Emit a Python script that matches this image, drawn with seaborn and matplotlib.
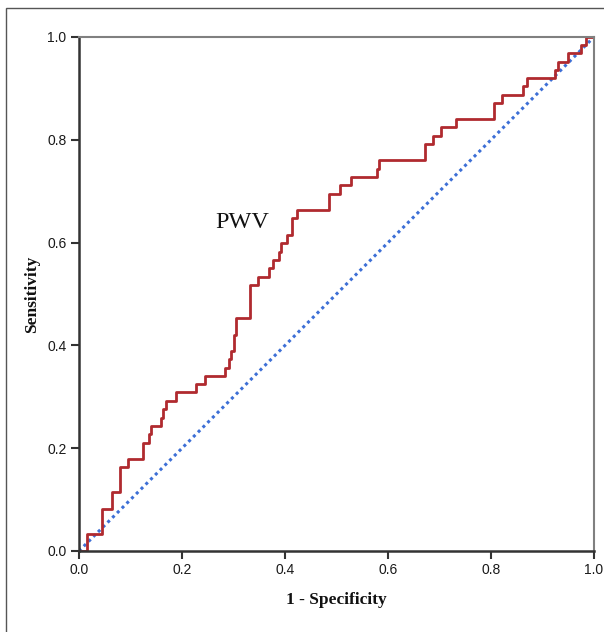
import matplotlib
matplotlib.use("Agg")
import matplotlib.pyplot as plt
import seaborn as sns
import pandas as pd
from matplotlib.patches import Rectangle

# ROC curve corner points (1 - specificity, sensitivity)
fpr = [0.0, 0.016, 0.044, 0.065, 0.080, 0.096, 0.125, 0.135, 0.139, 0.159,
       0.163, 0.168, 0.188, 0.228, 0.244, 0.284, 0.292, 0.295, 0.300, 0.304,
       0.333, 0.348, 0.368, 0.377, 0.388, 0.392, 0.403, 0.413, 0.423, 0.486,
       0.507, 0.529, 0.579, 0.583, 0.672, 0.687, 0.702, 0.732, 0.806, 0.822,
       0.862, 0.870, 0.925, 0.930, 0.950, 0.975, 0.985, 1.0]
tpr = [0.0, 0.033, 0.082, 0.114, 0.163, 0.179, 0.211, 0.228, 0.243, 0.259,
       0.276, 0.292, 0.309, 0.324, 0.340, 0.356, 0.373, 0.390, 0.420, 0.454,
       0.518, 0.534, 0.550, 0.566, 0.582, 0.599, 0.615, 0.647, 0.663, 0.695,
       0.712, 0.728, 0.743, 0.760, 0.792, 0.808, 0.824, 0.840, 0.872, 0.888,
       0.904, 0.920, 0.936, 0.952, 0.968, 0.984, 1.0, 1.0]
ref_x = [0.0, 1.0]
ref_y = [0.0, 1.0]
ticks = [0.0, 0.2, 0.4, 0.6, 0.8, 1.0]
tick_labels = ["0.0", "0.2", "0.4", "0.6", "0.8", "1.0"]

sns.set_style("white")
plt.rcParams["font.family"] = ["Liberation Sans", "DejaVu Sans"]

fig = plt.figure(figsize=(6.04, 6.32), dpi=100)
ax = fig.add_axes([79/604, 1-551/632, (594-79)/604, (551-37)/632])

df_roc = pd.DataFrame({"x": fpr, "y": tpr})
df_ref = pd.DataFrame({"x": ref_x, "y": ref_y})

sns.lineplot(data=df_ref, x="x", y="y", ax=ax, color="#3d6fd6", lw=2.2,
             linestyle=(0, (1, 1.2)), sort=False, estimator=None)
sns.lineplot(data=df_roc, x="x", y="y", ax=ax, color="#b02a2f", lw=2.0,
             drawstyle="steps-post", sort=False, estimator=None)

ax.set_xlim(0, 1)
ax.set_ylim(0, 1)
ax.set_xticks(ticks)
ax.set_yticks(ticks)
ax.set_xticklabels(tick_labels)
ax.set_yticklabels(tick_labels)
ax.tick_params(axis="both", which="major", direction="out", length=6, width=1.5,
               color="#333333", labelsize=10, labelcolor="#1a1a1a", pad=3,
               bottom=True, left=True, top=False, right=False)

for s in ["left", "bottom"]:
    ax.spines[s].set_color("#333333")
    ax.spines[s].set_linewidth(1.8)
for s in ["top", "right"]:
    ax.spines[s].set_color("#808080")
    ax.spines[s].set_linewidth(1.5)

serif = ["Liberation Serif", "DejaVu Serif"]
ax.set_xlabel("1 - Specificity", fontfamily=serif, fontweight="bold", fontsize=12.5,
              color="#111111")
ax.set_ylabel("Sensitivity", fontfamily=serif, fontweight="bold", fontsize=12.5,
              color="#111111")
ax.xaxis.set_label_coords(0.5, -(592 - 551) / 514)
ax.yaxis.set_label_coords(-(79 - 40) / 515, 0.5)

ax.text(0.316, 0.64, "PWV", fontfamily=serif, fontsize=17.5, color="#111111",
        ha="center", va="center")

fig.patches.append(Rectangle((6/604, -0.05), 1.2, 1-8/632+0.05,
                             transform=fig.transFigure, fill=False,
                             edgecolor="#555555", lw=1.0))

fig.savefig("out.png", dpi=100)
